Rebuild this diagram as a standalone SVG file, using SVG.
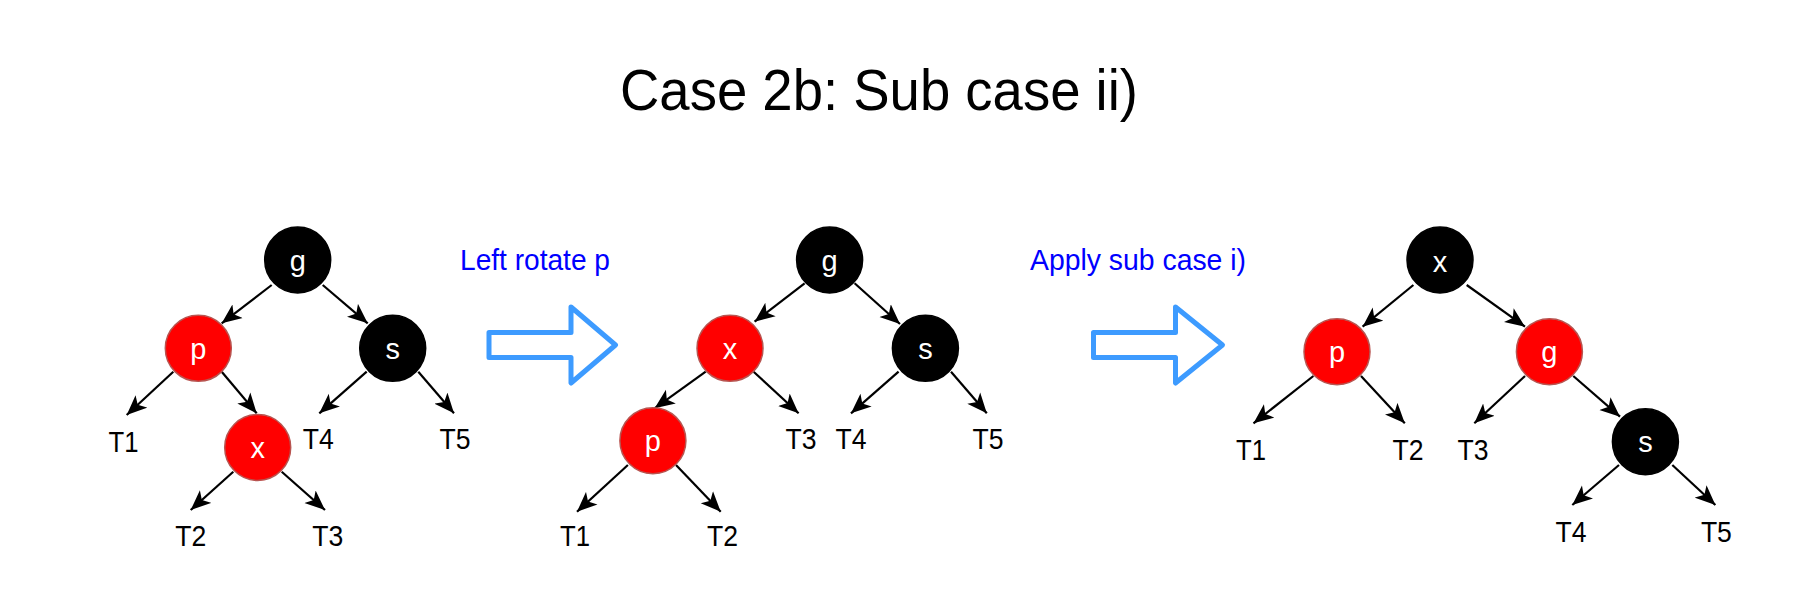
<svg xmlns="http://www.w3.org/2000/svg" width="1816" height="608" viewBox="0 0 1816 608">
<defs>
<style>
.t{font-family:"Liberation Sans",Arial,Helvetica,sans-serif;}
.title{font-size:58px;fill:#000;}
.lbl{font-size:30px;fill:#000;text-anchor:middle;}
.nl{font-size:29px;fill:#fff;text-anchor:middle;}
.el{font-size:29px;fill:#0000ff;}
.blk{fill:#000;stroke:#000;stroke-width:1.5;}
.red{fill:#ff0000;stroke:#b85450;stroke-width:1.5;}
.edge{stroke:#000;stroke-width:2.2;fill:none;marker-end:url(#ah);}
.big{fill:none;stroke:#3d9bff;stroke-width:5;stroke-linejoin:round;}
</style>
<marker id="ah" markerUnits="userSpaceOnUse" markerWidth="21" markerHeight="18" refX="20" refY="9" orient="auto" viewBox="0 0 21 18">
<path d="M0,0.5 L20,9 L0,17.5 L5,9 Z" fill="#000"/>
</marker>
</defs>
<rect width="1816" height="608" fill="#fff"/>
<text class="t title" x="620" y="110" textLength="518" lengthAdjust="spacingAndGlyphs">Case 2b: Sub case ii)</text>

<g id="connectors">
<line class="edge" x1="271.7" y1="285" x2="221.7" y2="323.3"/>
<line class="edge" x1="322.7" y1="285" x2="367.7" y2="323.3"/>
<line class="edge" x1="173.3" y1="371.7" x2="126.7" y2="415"/>
<line class="edge" x1="221.7" y1="371.7" x2="256.7" y2="413.3"/>
<line class="edge" x1="366.7" y1="371.7" x2="319.3" y2="413.3"/>
<line class="edge" x1="418.3" y1="371.7" x2="454" y2="413.3"/>
<line class="edge" x1="233.3" y1="471.7" x2="190.7" y2="510"/>
<line class="edge" x1="281.7" y1="471.7" x2="325" y2="510"/>

<line class="edge" x1="804.6" y1="283.3" x2="754.6" y2="321.7"/>
<line class="edge" x1="854.6" y1="283.3" x2="900" y2="324"/>
<line class="edge" x1="705.7" y1="371.7" x2="654.6" y2="408.3"/>
<line class="edge" x1="753.6" y1="371.7" x2="798.6" y2="413.3"/>
<line class="edge" x1="898.6" y1="371.7" x2="851" y2="413.3"/>
<line class="edge" x1="951" y1="371.7" x2="986.8" y2="413.3"/>
<line class="edge" x1="627.9" y1="465" x2="577" y2="511.7"/>
<line class="edge" x1="676" y1="465" x2="720.7" y2="511.7"/>

<line class="edge" x1="1413.4" y1="285" x2="1362.6" y2="326.7"/>
<line class="edge" x1="1466.7" y1="285" x2="1525" y2="326.7"/>
<line class="edge" x1="1313.4" y1="376" x2="1253.5" y2="423.3"/>
<line class="edge" x1="1361" y1="376" x2="1404.8" y2="423.3"/>
<line class="edge" x1="1525" y1="376" x2="1474.3" y2="423.3"/>
<line class="edge" x1="1573.3" y1="376" x2="1620" y2="416.7"/>
<line class="edge" x1="1619" y1="465" x2="1572.3" y2="505"/>
<line class="edge" x1="1672.3" y1="465" x2="1715.4" y2="505"/>
</g>

<!-- Tree 1 -->
<g id="t1-g"><circle class="blk" cx="297.7" cy="260" r="33"/><text class="t nl" x="297.7" y="270.5">g</text></g>
<g id="t1-p"><circle class="red" cx="198.3" cy="348.3" r="33"/><text class="t nl" x="198.3" y="358.8">p</text></g>
<g id="t1-s"><circle class="blk" cx="392.7" cy="348.3" r="33"/><text class="t nl" x="392.7" y="358.8">s</text></g>
<g id="t1-x"><circle class="red" cx="257.7" cy="447.5" r="33"/><text class="t nl" x="257.7" y="458">x</text></g>
<g id="t1-T1"><text class="t lbl" x="123.5" y="451.5" textLength="30" lengthAdjust="spacingAndGlyphs">T1</text></g>
<g id="t1-T4"><text class="t lbl" x="318.3" y="449" textLength="31" lengthAdjust="spacingAndGlyphs">T4</text></g>
<g id="t1-T5"><text class="t lbl" x="455" y="449" textLength="31" lengthAdjust="spacingAndGlyphs">T5</text></g>
<g id="t1-T2"><text class="t lbl" x="190.7" y="545.5" textLength="31" lengthAdjust="spacingAndGlyphs">T2</text></g>
<g id="t1-T3"><text class="t lbl" x="327.7" y="545.5" textLength="31" lengthAdjust="spacingAndGlyphs">T3</text></g>

<!-- Arrow 1 -->
<g id="arrow1">
<text class="t el" x="460" y="270" textLength="150" lengthAdjust="spacingAndGlyphs">Left rotate p</text>
<path class="big" d="M489,332.5 H571 V307 L615.5,345 L571,383 V357.5 H489 Z"/>
</g>

<!-- Tree 2 -->
<g id="t2-g"><circle class="blk" cx="829.6" cy="260" r="33"/><text class="t nl" x="829.6" y="270.5">g</text></g>
<g id="t2-x"><circle class="red" cx="730" cy="348.3" r="33"/><text class="t nl" x="730" y="358.8">x</text></g>
<g id="t2-s"><circle class="blk" cx="925.4" cy="348.3" r="33"/><text class="t nl" x="925.4" y="358.8">s</text></g>
<g id="t2-p"><circle class="red" cx="652.9" cy="440.7" r="33"/><text class="t nl" x="652.9" y="451.2">p</text></g>
<g id="t2-T3"><text class="t lbl" x="801" y="449" textLength="31" lengthAdjust="spacingAndGlyphs">T3</text></g>
<g id="t2-T4"><text class="t lbl" x="851" y="449" textLength="31" lengthAdjust="spacingAndGlyphs">T4</text></g>
<g id="t2-T5"><text class="t lbl" x="988" y="449" textLength="31" lengthAdjust="spacingAndGlyphs">T5</text></g>
<g id="t2-T1"><text class="t lbl" x="575" y="545.5" textLength="30" lengthAdjust="spacingAndGlyphs">T1</text></g>
<g id="t2-T2"><text class="t lbl" x="722.5" y="545.5" textLength="31" lengthAdjust="spacingAndGlyphs">T2</text></g>

<!-- Arrow 2 -->
<g id="arrow2">
<text class="t el" x="1030" y="270" textLength="216" lengthAdjust="spacingAndGlyphs">Apply sub case i)</text>
<path class="big" d="M1093.5,332.5 H1175.5 V307 L1222.5,345 L1175.5,383 V357.5 H1093.5 Z"/>
</g>

<!-- Tree 3 -->
<g id="t3-x"><circle class="blk" cx="1440" cy="260" r="33"/><text class="t nl" x="1440" y="271.5">x</text></g>
<g id="t3-p"><circle class="red" cx="1337" cy="351.7" r="33"/><text class="t nl" x="1337" y="362.2">p</text></g>
<g id="t3-g"><circle class="red" cx="1549.4" cy="351.7" r="33"/><text class="t nl" x="1549.4" y="362.2">g</text></g>
<g id="t3-s"><circle class="blk" cx="1645.4" cy="441.7" r="33"/><text class="t nl" x="1645.4" y="452.2">s</text></g>
<g id="t3-T1"><text class="t lbl" x="1251" y="459.5" textLength="30" lengthAdjust="spacingAndGlyphs">T1</text></g>
<g id="t3-T2"><text class="t lbl" x="1408" y="459.5" textLength="31" lengthAdjust="spacingAndGlyphs">T2</text></g>
<g id="t3-T3"><text class="t lbl" x="1473" y="459.5" textLength="31" lengthAdjust="spacingAndGlyphs">T3</text></g>
<g id="t3-T4"><text class="t lbl" x="1571" y="542" textLength="31" lengthAdjust="spacingAndGlyphs">T4</text></g>
<g id="t3-T5"><text class="t lbl" x="1716.4" y="542" textLength="31" lengthAdjust="spacingAndGlyphs">T5</text></g>
</svg>
